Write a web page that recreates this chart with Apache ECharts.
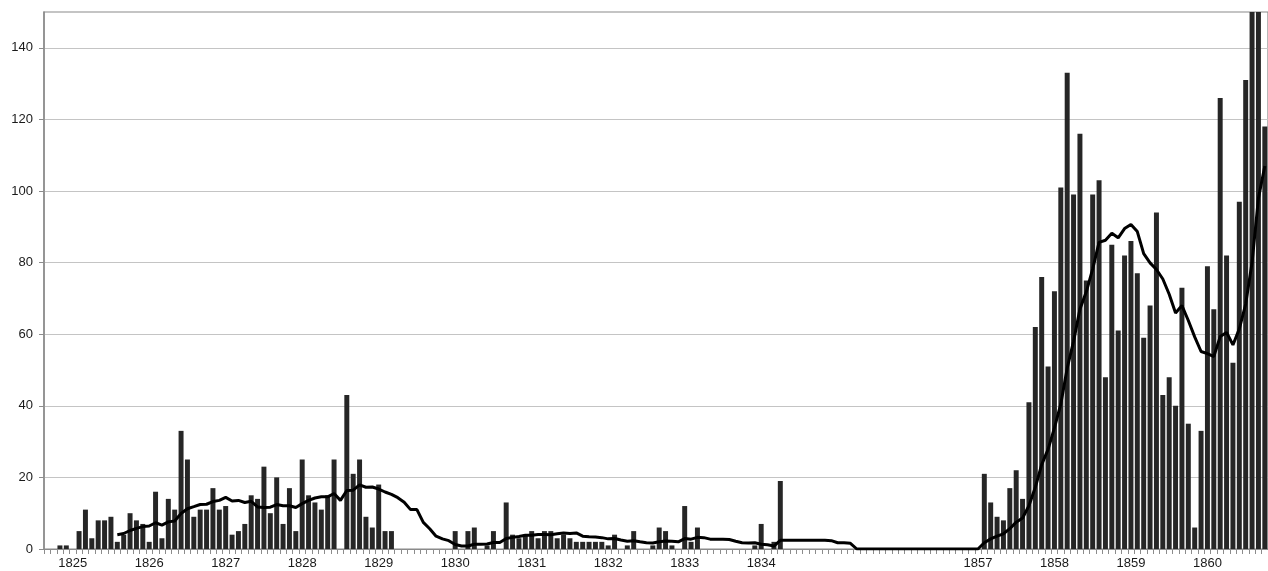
<!DOCTYPE html>
<html>
<head>
<meta charset="utf-8">
<script src="https://cdn.jsdelivr.net/npm/echarts@6/dist/echarts.min.js"></script>
<style>
html,body{margin:0;padding:0;background:#ffffff;}
#chart{width:1268px;height:571px;}
</style>
</head>
<body>
<div id="chart"></div>
<script>
// Year tick labels shown under the axis
const yearTickLabels = ['1825','1826','1827','1828','1829','1830','1831','1832','1833','1834','1857','1858','1859','1860'];

// Value-axis tick labels
const valueTicks = [0, 20, 40, 60, 80, 100, 120, 140];

// Monthly counts (bars)
const barValues = [
  0,0,1,1,0,5,11,3,8,8,9,2,
  4,10,8,7,2,16,3,14,11,33,25,9,
  11,11,17,11,12,4,5,7,15,14,23,10,
  20,7,17,5,25,15,13,11,15,25,0,43,
  21,25,9,6,18,5,5,0,0,0,0,0,
  0,0,0,0,5,0,5,6,0,1,5,0,
  13,4,3,4,5,3,5,5,3,4,3,2,
  2,2,2,2,1,4,0,1,5,0,0,1,
  6,5,1,0,12,2,6,0,0,0,0,0,
  0,0,0,1,7,0,2,19,0,0,0,0,
  0,0,0,0,0,0,0,0,0,0,0,0,
  0,0,0,0,0,0,0,0,0,0,0,0,
  0,0,0,21,13,9,8,17,22,14,41,62,
  76,51,72,101,133,99,116,75,99,103,48,85,
  61,82,86,77,59,68,94,43,48,40,73,35,
  6,33,79,67,126,82,52,97,131,180,290,118
];

// Moving-average trend line
const trendValues = [
  null,null,null,null,null,null,null,null,null,null,null,4.0,
  4.33,5.17,5.75,6.25,6.42,7.33,6.67,7.58,7.83,9.92,11.25,11.83,
  12.42,12.5,13.25,13.58,14.42,13.42,13.58,13.0,13.33,11.75,11.58,11.67,
  12.42,12.08,12.08,11.58,12.67,13.58,14.25,14.58,14.58,15.5,13.58,16.33,
  16.42,17.92,17.25,17.33,16.75,15.92,15.25,14.33,13.08,11.0,11.0,7.42,
  5.67,3.58,2.83,2.33,1.25,0.83,0.83,1.33,1.33,1.42,1.83,1.83,
  2.92,3.25,3.5,3.83,3.83,4.08,4.08,4.0,4.25,4.5,4.33,4.5,
  3.58,3.42,3.33,3.17,2.83,2.92,2.5,2.17,2.33,2.0,1.75,1.67,
  2.0,2.25,2.17,2.0,2.92,2.75,3.25,3.17,2.75,2.75,2.75,2.67,
  2.17,1.75,1.67,1.75,1.33,1.17,0.83,2.42,2.42,2.42,2.42,2.42,
  2.42,2.42,2.42,2.33,1.75,1.75,1.58,0,0,0,0,0,
  0,0,0,0,0,0,0,0,0,0,0,0,
  0,0,0,1.75,2.83,3.58,4.25,5.67,7.5,8.67,12.08,17.25,
  23.58,27.83,33.83,40.5,50.5,58.0,67.0,71.83,78.25,85.67,86.25,88.17,
  86.92,89.5,90.67,88.67,82.5,79.92,78.08,75.42,71.17,65.92,68.0,63.83,
  59.25,55.17,54.58,53.75,59.33,60.5,57.0,61.5,68.42,80,98,107
];

// Categories: Sep 1824 - Dec 1834, a compressed gap, Jan 1857 - Oct 1860
function monthRange(y, m, n) {
  const out = [];
  for (let i = 0; i < n; i++) {
    out.push(y + '-' + String(m).padStart(2, '0'));
    m++; if (m > 12) { m = 1; y++; }
  }
  return out;
}
const gapCategories = [];
for (let i = 1; i <= 22; i++) gapCategories.push('gap-' + i);
const categories = monthRange(1824, 9, 124).concat(gapCategories, monthRange(1857, 1, 46));

const chart = echarts.init(document.getElementById('chart'), null, {renderer: 'canvas'});
chart.setOption({
  animation: false,
  backgroundColor: '#ffffff',
  grid: {left: 44, right: -2, top: 12, bottom: 22, show: true, borderColor: '#8a8a8a', borderWidth: 1.2, backgroundColor: 'transparent'},
  xAxis: {
    type: 'category',
    data: categories,
    boundaryGap: true,
    axisLine: {show: true, lineStyle: {color: '#8a8a8a', width: 1}},
    axisTick: {show: true, interval: 0, length: 5, lineStyle: {color: '#8c8c8c', width: 1}},
    axisLabel: {
      interval: 0, margin: 8, color: '#1a1a1a', fontSize: 13,
      fontFamily: 'Liberation Sans, Arial, sans-serif',
      formatter: function (v) {
        const y = v.slice(0, 4);
        return (v.endsWith('-01') && yearTickLabels.indexOf(y) >= 0) ? y : '';
      }
    },
    splitLine: {show: false}
  },
  yAxis: {
    type: 'value', min: 0, max: 150, interval: 20,
    axisLine: {show: true, lineStyle: {color: '#8a8a8a', width: 1.5}},
    axisTick: {show: true, length: 5, customValues: valueTicks, lineStyle: {color: '#8c8c8c'}},
    axisLabel: {
      margin: 11, color: '#1a1a1a', fontSize: 13, customValues: valueTicks,
      fontFamily: 'Liberation Sans, Arial, sans-serif',
      formatter: function (v) { return String(v); }
    },
    splitLine: {show: true, lineStyle: {color: '#c4c4c4', width: 1}}
  },
  series: [
    {
      type: 'bar', data: barValues, barCategoryGap: '22%',
      itemStyle: {color: '#262626'}, clip: true
    },
    {
      type: 'line', data: trendValues, symbol: 'none', showSymbol: false,
      connectNulls: false, clip: true,
      lineStyle: {color: '#000000', width: 3}, z: 3
    }
  ]
});
</script>
</body>
</html>
